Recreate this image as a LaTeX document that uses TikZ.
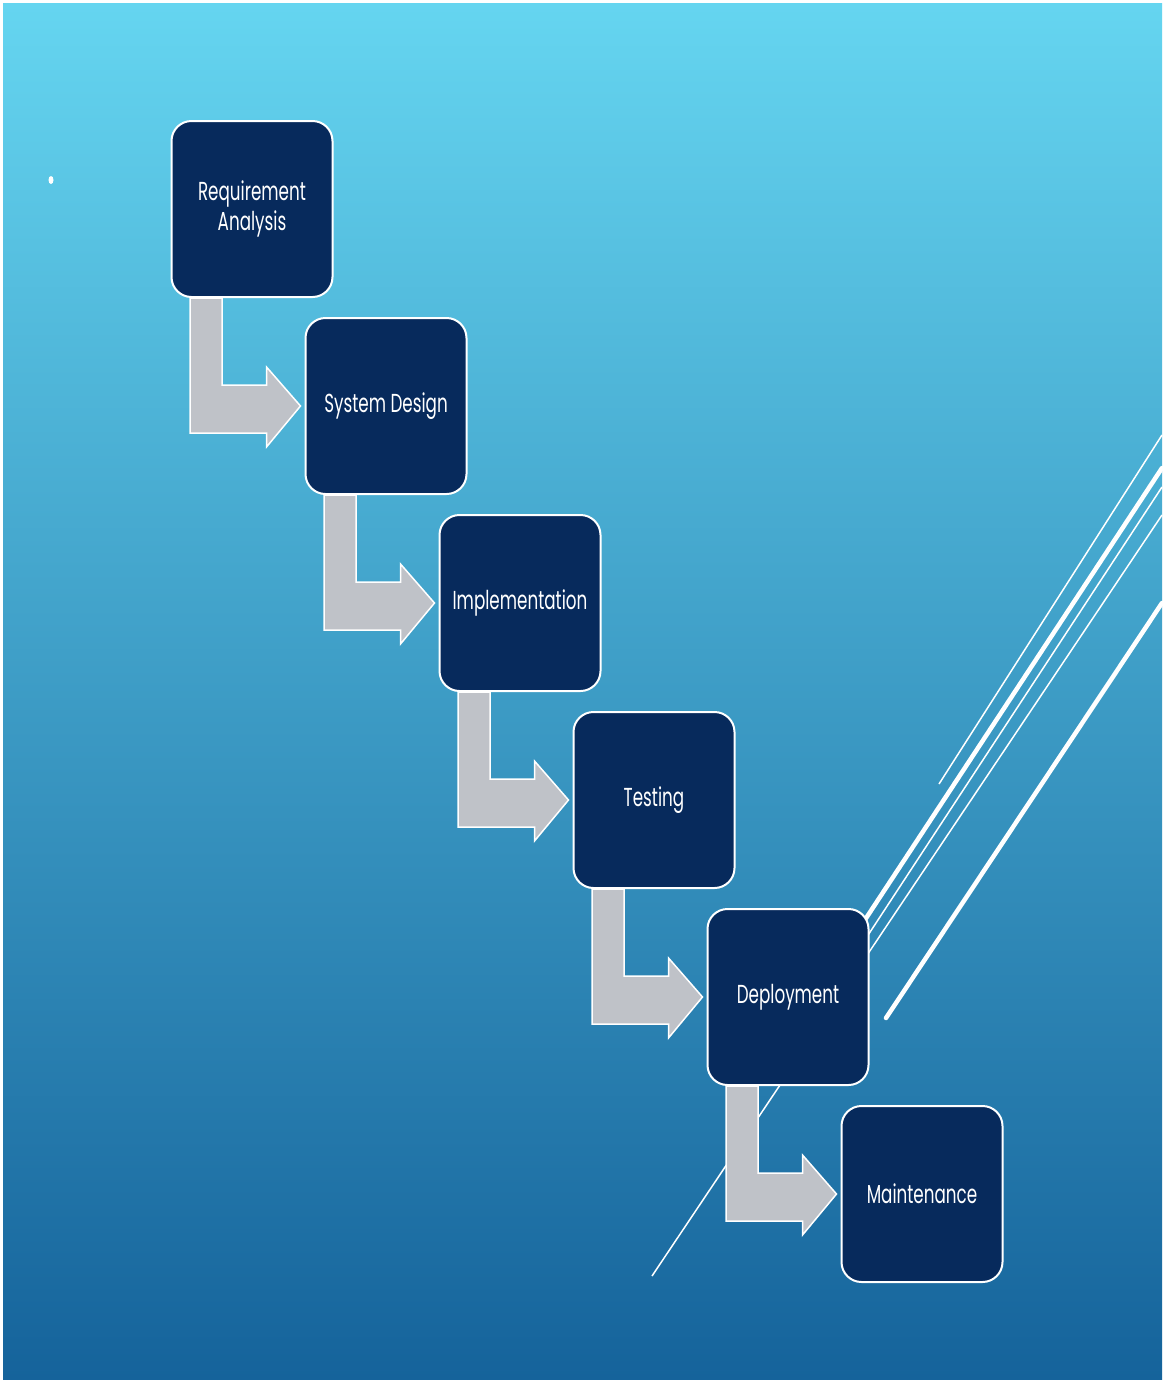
\documentclass[tikz,border=0pt]{standalone}
\usepackage{fontspec}
\setmainfont{Poppins}[FakeStretch=0.645]
\usepackage{tikz}
\usetikzlibrary{positioning,calc}

\definecolor{navy}{HTML}{072A5C}
\definecolor{arrowgrey}{HTML}{BFC2C8}
\definecolor{skytop}{HTML}{65D5F0}
\definecolor{skymid}{HTML}{3A9DCA}
\definecolor{skybot}{HTML}{15639B}

% bent grey arrow from the bottom of one phase to the left side of the next
\newcommand{\bentarrow}[2]{%
  \draw [flow] let \p1=(#1.south), \p2=($(#2.west)+(-4pt,0pt)$) in
    (\x1-62pt,\y1) -- (\x1-30pt,\y1) -- (\x1-30pt,\y2+21pt) -- (\x2-34pt,\y2+21pt)
    -- (\x2-34pt,\y2+39pt) -- (\p2) -- (\x2-34pt,\y2-41pt) -- (\x2-34pt,\y2-27pt)
    -- (\x1-62pt,\y2-27pt) -- cycle;}

\begin{document}
\begin{tikzpicture}[x=1pt, y=-1pt, node distance=197pt and 134pt, on grid,
  phase/.style={draw=white, line width=2pt, fill=navy, rounded corners=20pt,
    minimum width=161pt, minimum height=176pt, align=center, text=white,
    font=\fontsize{26}{30}\selectfont},
  flow/.style={draw=white, line width=1.5pt, fill=arrowgrey, line join=miter},
  hairline/.style={draw=white, line width=1.5pt},
  wideline/.style={draw=white, line width=4.5pt, line cap=round}]
\useasboundingbox (0,0) rectangle (1164,1382);
\fill [white] (0,0) rectangle (1164,1382);
\shade [top color=skytop, middle color=skymid, bottom color=skybot] (3,3) rectangle (1162,1379);

\fill [white] (51,180) ellipse (2.5 and 4);

% streaks behind the boxes
\path [hairline] (1162,435) -- (939,784);
\path [wideline] (1162,468) -- (855,935);
\path [hairline] (1162,487) -- (855,955);
\path [hairline] (1162,515) -- (652,1276);
\path [wideline] (1162,603) -- (886,1018);

\node [phase] (req) at (252,209) {Requirement\\Analysis};
\node [phase] (design) [below right=of req] {System Design};
\node [phase] (impl) [below right=of design] {Implementation};
\node [phase] (test) [below right=of impl] {Testing};
\node [phase] (deploy) [below right=of test] {Deployment};
\node [phase] (maint) [below right=of deploy] {Maintenance};

\bentarrow{req}{design}
\bentarrow{design}{impl}
\bentarrow{impl}{test}
\bentarrow{test}{deploy}
\bentarrow{deploy}{maint}
\end{tikzpicture}
\end{document}
